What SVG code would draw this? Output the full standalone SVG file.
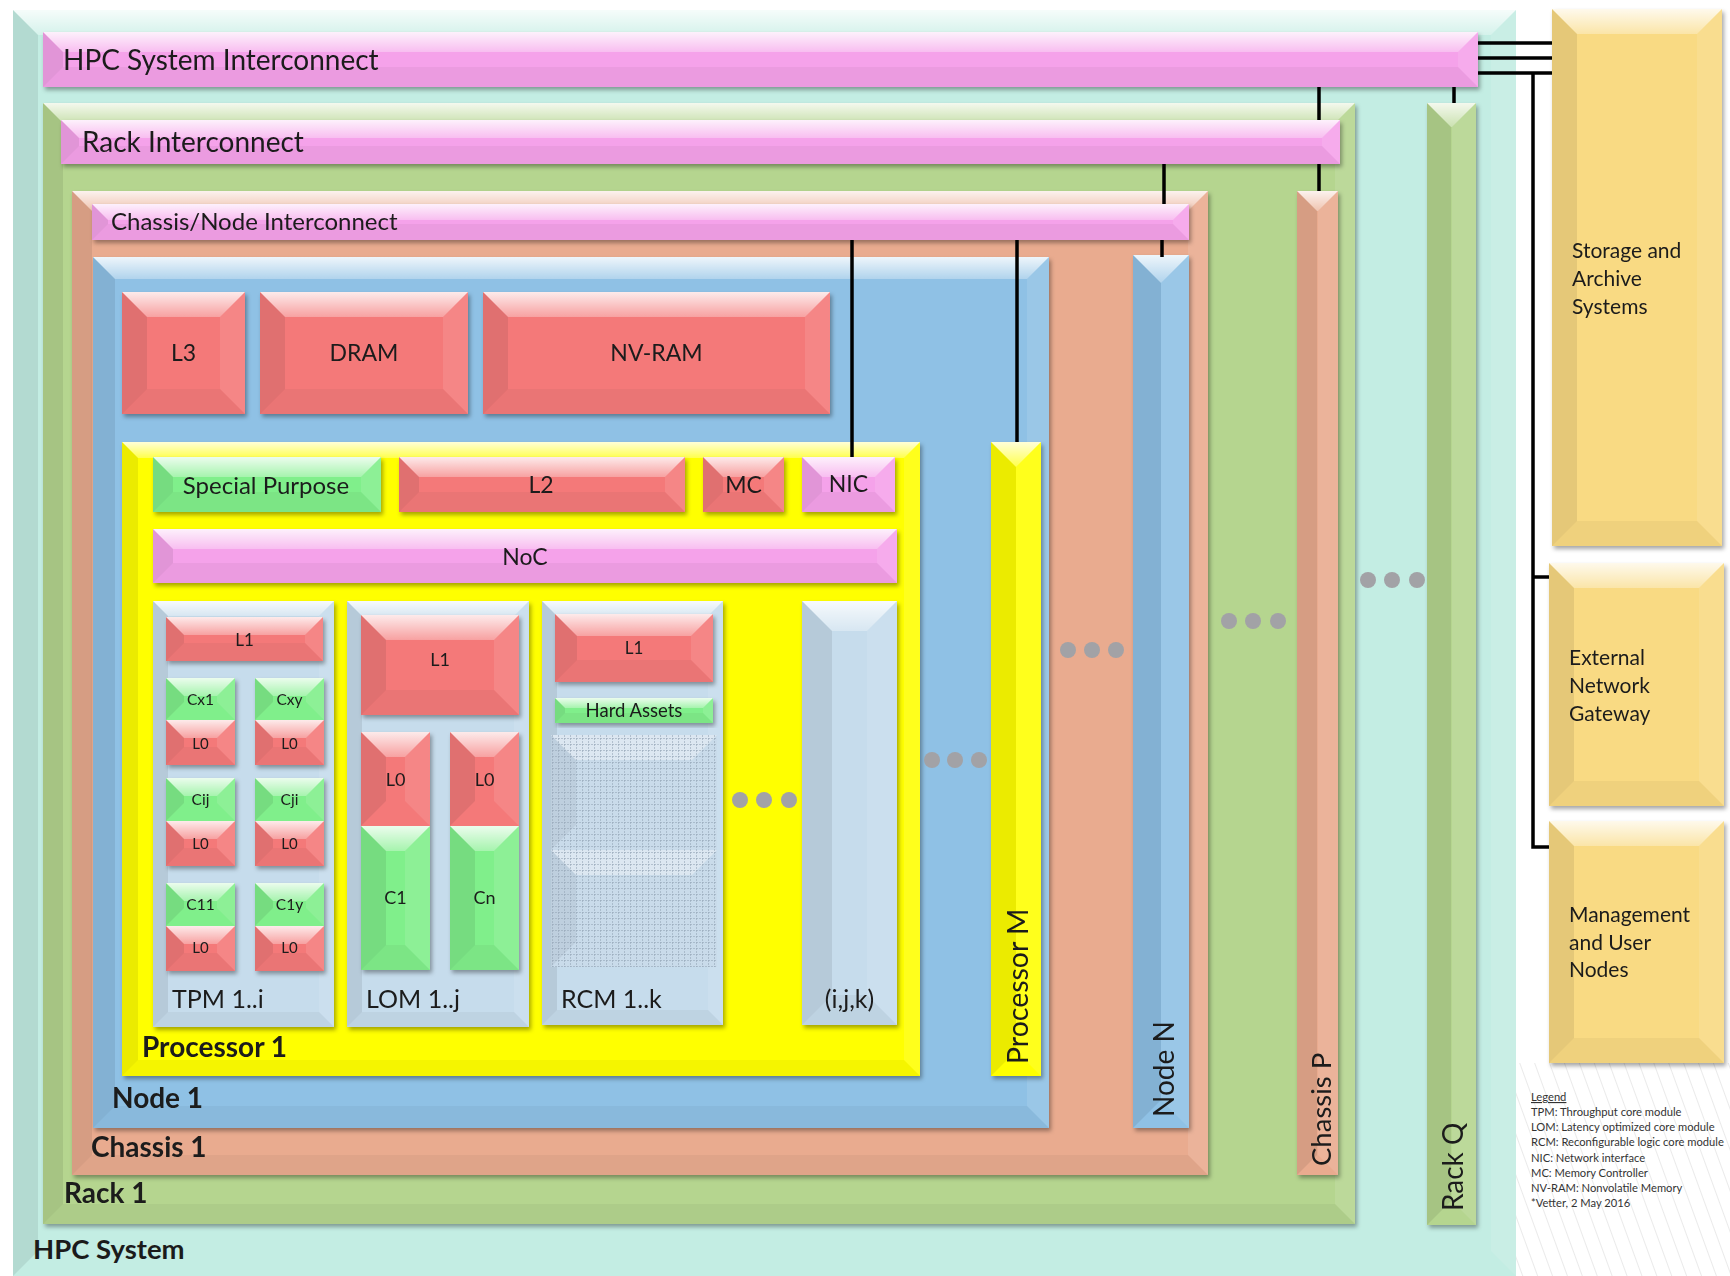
<svg xmlns="http://www.w3.org/2000/svg" width="1730" height="1276" viewBox="0 0 1730 1276">
  <defs>
    <linearGradient id="gloss" x1="0" y1="0" x2="0" y2="1">
      <stop offset="0" stop-color="#fff" stop-opacity="0.85"/>
      <stop offset="1" stop-color="#fff" stop-opacity="0.3"/>
    </linearGradient>
    <filter id="ds" x="-10%" y="-10%" width="130%" height="130%">
      <feDropShadow dx="2" dy="3" stdDeviation="2" flood-color="#000" flood-opacity="0.35"/>
    </filter>
    <pattern id="grid" width="6" height="6" patternUnits="userSpaceOnUse">
      <path d="M0,0.5 H6 M0.5,0 V6" stroke="#96a7b8" stroke-width="1" stroke-dasharray="2 1" fill="none" opacity="0.6"/>
    </pattern>
    <pattern id="hatch" width="14" height="14" patternUnits="userSpaceOnUse" patternTransform="rotate(-20)">
      <path d="M0,0 V14" stroke="#c4c4c4" stroke-width="1" opacity="0.7"/>
    </pattern>
    <style>
      .f-teal{fill:#c3ede3}
      .f-green{fill:#b5d58f}
      .f-salmon{fill:#e9ab8f}
      .f-blue{fill:#8fc1e5}
      .f-yellow{fill:#ffff00}
      .f-pink{fill:#f5a2ea}
      .f-red{fill:#f47979}
      .f-lime{fill:#80ef8b}
      .f-mod{fill:#c6dcec}
      .f-gold{fill:#f9da83}
      .bt{fill:url(#gloss)}
      .bl{fill:#000;fill-opacity:.08}
      .br{fill:#fff;fill-opacity:.1}
      .bb{fill:#000;fill-opacity:.04}
      .sh{filter:url(#ds)}
      .lbl{font-family:Lato,"Liberation Sans",sans-serif;fill:#1b1b1b}
      .b{font-weight:700}
      .c{text-anchor:middle}
      .dot{fill:#a2a2a6}
      .wire{stroke:#000;stroke-width:3.5;fill:none}
      .leg{font-family:Lato,"Liberation Sans",sans-serif;font-size:11.2px;fill:#333}
    </style>
  </defs>

  <rect width="1730" height="1276" fill="#fff"/>
  <rect x="1516" y="1063" width="214" height="213" fill="url(#hatch)"/>

  <!-- system level -->
  <g id="hpc-system">
    <rect class="f-teal" x="13" y="10" width="1503" height="1266"/>
    <path class="bt" d="M13,10 h1503 l-25,25 h-1453 z"/>
    <path class="bl" d="M13,10 l25,25 v1216 l-25,25 z"/>
    <path class="br" d="M1516,10 v1266 l-25,-25 v-1216 z"/>
    <text class="lbl b" x="33" y="1259" font-size="27.5">HPC System</text>
  </g>

  <g id="hpc-interconnect" class="sh">
    <rect class="f-pink" x="43" y="32" width="1435" height="55"/>
    <path class="bt" d="M43,32 h1435 l-20,20 h-1395 z"/>
    <path class="bl" d="M43,32 l20,20 v15 l-20,20 z"/>
    <path class="br" d="M1478,32 v55 l-20,-20 v-15 z"/>
    <path class="bb" d="M43,87 h1435 l-20,-20 h-1395 z"/>
    <text class="lbl" x="63" y="70" font-size="28">HPC System Interconnect</text>
  </g>

  <g id="rack-1" class="sh">
    <rect class="f-green" x="43" y="103" width="1312" height="1121"/>
    <path class="bt" d="M43,103 h1312 l-20,20 h-1272 z"/>
    <path class="bl" d="M43,103 l20,20 v1081 l-20,20 z"/>
    <path class="br" d="M1355,103 v1121 l-20,-20 v-1081 z"/>
    <path class="bb" d="M43,1224 h1312 l-20,-20 h-1272 z"/>
    <text class="lbl b" x="64" y="1203" font-size="28">Rack 1</text>
  </g>

  <g id="rack-interconnect" class="sh">
    <rect class="f-pink" x="61" y="120" width="1279" height="44"/>
    <path class="bt" d="M61,120 h1279 l-18,18 h-1243 z"/>
    <path class="bl" d="M61,120 l18,18 v8 l-18,18 z"/>
    <path class="br" d="M1340,120 v44 l-18,-18 v-8 z"/>
    <path class="bb" d="M61,164 h1279 l-18,-18 h-1243 z"/>
    <text class="lbl" x="82" y="152" font-size="28">Rack Interconnect</text>
  </g>

  <g id="chassis-1" class="sh">
    <rect class="f-salmon" x="72" y="191" width="1136" height="984"/>
    <path class="bt" d="M72,191 h1136 l-20,20 h-1096 z"/>
    <path class="bl" d="M72,191 l20,20 v944 l-20,20 z"/>
    <path class="br" d="M1208,191 v984 l-20,-20 v-944 z"/>
    <path class="bb" d="M72,1175 h1136 l-20,-20 h-1096 z"/>
    <text class="lbl b" x="91" y="1157" font-size="28">Chassis 1</text>
  </g>

  <g id="chassis-node-interconnect" class="sh">
    <rect class="f-pink" x="92" y="204" width="1097" height="36"/>
    <path class="bt" d="M92,204 h1097 l-16,16 h-1065 z"/>
    <path class="bl" d="M92,204 l16,16 v4 l-16,16 z"/>
    <path class="br" d="M1189,204 v36 l-16,-16 v-4 z"/>
    <path class="bb" d="M92,240 h1097 l-16,-16 h-1065 z"/>
    <text class="lbl" x="111" y="230" font-size="24">Chassis/Node Interconnect</text>
  </g>

  <g id="node-1" class="sh">
    <rect class="f-blue" x="93" y="257" width="956" height="871"/>
    <path class="bt" d="M93,257 h956 l-22,22 h-912 z"/>
    <path class="bl" d="M93,257 l22,22 v827 l-22,22 z"/>
    <path class="br" d="M1049,257 v871 l-22,-22 v-827 z"/>
    <path class="bb" d="M93,1128 h956 l-22,-22 h-912 z"/>
    <text class="lbl b" x="112" y="1108" font-size="28">Node 1</text>
  </g>

  <!-- node memories -->
  <g id="l3" class="sh">
    <rect class="f-red" x="122" y="292" width="123" height="122"/>
    <path class="bt" d="M122,292 h123 l-25,25 h-73 z"/>
    <path class="bl" d="M122,292 l25,25 v72 l-25,25 z"/>
    <path class="br" d="M245,292 v122 l-25,-25 v-72 z"/>
    <path class="bb" d="M122,414 h123 l-25,-25 h-73 z"/>
    <text class="lbl c" x="183.5" y="361" font-size="23">L3</text>
  </g>
  <g id="dram" class="sh">
    <rect class="f-red" x="260" y="292" width="208" height="122"/>
    <path class="bt" d="M260,292 h208 l-25,25 h-158 z"/>
    <path class="bl" d="M260,292 l25,25 v72 l-25,25 z"/>
    <path class="br" d="M468,292 v122 l-25,-25 v-72 z"/>
    <path class="bb" d="M260,414 h208 l-25,-25 h-158 z"/>
    <text class="lbl c" x="364" y="361" font-size="23">DRAM</text>
  </g>
  <g id="nv-ram" class="sh">
    <rect class="f-red" x="483" y="292" width="347" height="122"/>
    <path class="bt" d="M483,292 h347 l-25,25 h-297 z"/>
    <path class="bl" d="M483,292 l25,25 v72 l-25,25 z"/>
    <path class="br" d="M830,292 v122 l-25,-25 v-72 z"/>
    <path class="bb" d="M483,414 h347 l-25,-25 h-297 z"/>
    <text class="lbl c" x="656.5" y="361" font-size="23">NV-RAM</text>
  </g>

  <!-- processor 1 -->
  <g id="processor-1" class="sh">
    <rect class="f-yellow" x="122" y="442" width="798" height="634"/>
    <path class="bt" d="M122,442 h798 l-16,16 h-766 z"/>
    <path class="bl" d="M122,442 l16,16 v602 l-16,16 z"/>
    <path class="br" d="M920,442 v634 l-16,-16 v-602 z"/>
    <path class="bb" d="M122,1076 h798 l-16,-16 h-766 z"/>
    <text class="lbl b" x="142" y="1057" font-size="28">Processor 1</text>
  </g>

  <g id="special-purpose" class="sh">
    <rect class="f-lime" x="153" y="457" width="228" height="55"/>
    <path class="bt" d="M153,457 h228 l-20,20 h-188 z"/>
    <path class="bl" d="M153,457 l20,20 v15 l-20,20 z"/>
    <path class="br" d="M381,457 v55 l-20,-20 v-15 z"/>
    <path class="bb" d="M153,512 h228 l-20,-20 h-188 z"/>
    <text class="lbl c" x="266" y="494" font-size="24">Special Purpose</text>
  </g>
  <g id="l2" class="sh">
    <rect class="f-red" x="399" y="457" width="286" height="55"/>
    <path class="bt" d="M399,457 h286 l-20,20 h-246 z"/>
    <path class="bl" d="M399,457 l20,20 v15 l-20,20 z"/>
    <path class="br" d="M685,457 v55 l-20,-20 v-15 z"/>
    <path class="bb" d="M399,512 h286 l-20,-20 h-246 z"/>
    <text class="lbl c" x="541" y="493" font-size="23">L2</text>
  </g>
  <g id="mc" class="sh">
    <rect class="f-red" x="703" y="457" width="81" height="55"/>
    <path class="bt" d="M703,457 h81 l-20,20 h-41 z"/>
    <path class="bl" d="M703,457 l20,20 v15 l-20,20 z"/>
    <path class="br" d="M784,457 v55 l-20,-20 v-15 z"/>
    <path class="bb" d="M703,512 h81 l-20,-20 h-41 z"/>
    <text class="lbl c" x="743.5" y="493" font-size="23">MC</text>
  </g>
  <g id="nic" class="sh">
    <rect class="f-pink" x="802" y="457" width="93" height="55"/>
    <path class="bt" d="M802,457 h93 l-20,20 h-53 z"/>
    <path class="bl" d="M802,457 l20,20 v15 l-20,20 z"/>
    <path class="br" d="M895,457 v55 l-20,-20 v-15 z"/>
    <path class="bb" d="M802,512 h93 l-20,-20 h-53 z"/>
    <text class="lbl c" x="848.5" y="492" font-size="23">NIC</text>
  </g>
  <g id="noc" class="sh">
    <rect class="f-pink" x="153" y="529" width="744" height="54"/>
    <path class="bt" d="M153,529 h744 l-20,20 h-704 z"/>
    <path class="bl" d="M153,529 l20,20 v14 l-20,20 z"/>
    <path class="br" d="M897,529 v54 l-20,-20 v-14 z"/>
    <path class="bb" d="M153,583 h744 l-20,-20 h-704 z"/>
    <text class="lbl c" x="525" y="565" font-size="23">NoC</text>
  </g>

  <!-- throughput core module -->
  <g id="tpm" class="sh">
    <rect class="f-mod" x="153" y="601" width="181" height="426"/>
    <path class="bt" d="M153,601 h181 l-15,15 h-151 z"/>
    <path class="bl" d="M153,601 l15,15 v396 l-15,15 z"/>
    <path class="br" d="M334,601 v426 l-15,-15 v-396 z"/>
    <path class="bb" d="M153,1027 h181 l-15,-15 h-151 z"/>
    <text class="lbl" x="172" y="1008" font-size="25">TPM 1..i</text>
  </g>
  <g id="tpm-l1" class="sh">
    <rect class="f-red" x="166" y="617" width="157" height="44"/>
    <path class="bt" d="M166,617 h157 l-18,18 h-121 z"/>
    <path class="bl" d="M166,617 l18,18 v8 l-18,18 z"/>
    <path class="br" d="M323,617 v44 l-18,-18 v-8 z"/>
    <path class="bb" d="M166,661 h157 l-18,-18 h-121 z"/>
    <text class="lbl c" x="244.5" y="646" font-size="17">L1</text>
  </g>

  <g id="core-cx1" class="sh">
    <rect class="f-lime" x="166" y="678" width="69" height="42"/>
    <path class="bt" d="M166,678 h69 l-18,18 h-33 z"/>
    <path class="bl" d="M166,678 l18,18 v6 l-18,18 z"/>
    <path class="br" d="M235,678 v42 l-18,-18 v-6 z"/>
    <text class="lbl c" x="200.5" y="705" font-size="15.5">Cx1</text>
    <rect class="f-red" x="166" y="720" width="69" height="45"/>
    <path class="bt" d="M166,720 h69 l-18,18 h-33 z"/>
    <path class="bl" d="M166,720 l18,18 v9 l-18,18 z"/>
    <path class="br" d="M235,720 v45 l-18,-18 v-9 z"/>
    <path class="bb" d="M166,765 h69 l-18,-18 h-33 z"/>
    <text class="lbl c" x="200.5" y="749" font-size="15">L0</text>
  </g>
  <g id="core-cxy" class="sh">
    <rect class="f-lime" x="255" y="678" width="69" height="42"/>
    <path class="bt" d="M255,678 h69 l-18,18 h-33 z"/>
    <path class="bl" d="M255,678 l18,18 v6 l-18,18 z"/>
    <path class="br" d="M324,678 v42 l-18,-18 v-6 z"/>
    <text class="lbl c" x="289.5" y="705" font-size="15.5">Cxy</text>
    <rect class="f-red" x="255" y="720" width="69" height="45"/>
    <path class="bt" d="M255,720 h69 l-18,18 h-33 z"/>
    <path class="bl" d="M255,720 l18,18 v9 l-18,18 z"/>
    <path class="br" d="M324,720 v45 l-18,-18 v-9 z"/>
    <path class="bb" d="M255,765 h69 l-18,-18 h-33 z"/>
    <text class="lbl c" x="289.5" y="749" font-size="15">L0</text>
  </g>
  <g id="core-cij" class="sh">
    <rect class="f-lime" x="166" y="778" width="69" height="43"/>
    <path class="bt" d="M166,778 h69 l-18,18 h-33 z"/>
    <path class="bl" d="M166,778 l18,18 v7 l-18,18 z"/>
    <path class="br" d="M235,778 v43 l-18,-18 v-7 z"/>
    <text class="lbl c" x="200.5" y="805" font-size="15.5">Cij</text>
    <rect class="f-red" x="166" y="821" width="69" height="45"/>
    <path class="bt" d="M166,821 h69 l-18,18 h-33 z"/>
    <path class="bl" d="M166,821 l18,18 v9 l-18,18 z"/>
    <path class="br" d="M235,821 v45 l-18,-18 v-9 z"/>
    <path class="bb" d="M166,866 h69 l-18,-18 h-33 z"/>
    <text class="lbl c" x="200.5" y="849" font-size="15">L0</text>
  </g>
  <g id="core-cji" class="sh">
    <rect class="f-lime" x="255" y="778" width="69" height="43"/>
    <path class="bt" d="M255,778 h69 l-18,18 h-33 z"/>
    <path class="bl" d="M255,778 l18,18 v7 l-18,18 z"/>
    <path class="br" d="M324,778 v43 l-18,-18 v-7 z"/>
    <text class="lbl c" x="289.5" y="805" font-size="15.5">Cji</text>
    <rect class="f-red" x="255" y="821" width="69" height="45"/>
    <path class="bt" d="M255,821 h69 l-18,18 h-33 z"/>
    <path class="bl" d="M255,821 l18,18 v9 l-18,18 z"/>
    <path class="br" d="M324,821 v45 l-18,-18 v-9 z"/>
    <path class="bb" d="M255,866 h69 l-18,-18 h-33 z"/>
    <text class="lbl c" x="289.5" y="849" font-size="15">L0</text>
  </g>
  <g id="core-c11" class="sh">
    <rect class="f-lime" x="166" y="883" width="69" height="43"/>
    <path class="bt" d="M166,883 h69 l-18,18 h-33 z"/>
    <path class="bl" d="M166,883 l18,18 v7 l-18,18 z"/>
    <path class="br" d="M235,883 v43 l-18,-18 v-7 z"/>
    <text class="lbl c" x="200.5" y="910" font-size="15.5">C11</text>
    <rect class="f-red" x="166" y="926" width="69" height="45"/>
    <path class="bt" d="M166,926 h69 l-18,18 h-33 z"/>
    <path class="bl" d="M166,926 l18,18 v9 l-18,18 z"/>
    <path class="br" d="M235,926 v45 l-18,-18 v-9 z"/>
    <path class="bb" d="M166,971 h69 l-18,-18 h-33 z"/>
    <text class="lbl c" x="200.5" y="953" font-size="15">L0</text>
  </g>
  <g id="core-c1y" class="sh">
    <rect class="f-lime" x="255" y="883" width="69" height="43"/>
    <path class="bt" d="M255,883 h69 l-18,18 h-33 z"/>
    <path class="bl" d="M255,883 l18,18 v7 l-18,18 z"/>
    <path class="br" d="M324,883 v43 l-18,-18 v-7 z"/>
    <text class="lbl c" x="289.5" y="910" font-size="15.5">C1y</text>
    <rect class="f-red" x="255" y="926" width="69" height="45"/>
    <path class="bt" d="M255,926 h69 l-18,18 h-33 z"/>
    <path class="bl" d="M255,926 l18,18 v9 l-18,18 z"/>
    <path class="br" d="M324,926 v45 l-18,-18 v-9 z"/>
    <path class="bb" d="M255,971 h69 l-18,-18 h-33 z"/>
    <text class="lbl c" x="289.5" y="953" font-size="15">L0</text>
  </g>

  <!-- latency optimized core module -->
  <g id="lom" class="sh">
    <rect class="f-mod" x="347" y="601" width="182" height="426"/>
    <path class="bt" d="M347,601 h182 l-15,15 h-152 z"/>
    <path class="bl" d="M347,601 l15,15 v396 l-15,15 z"/>
    <path class="br" d="M529,601 v426 l-15,-15 v-396 z"/>
    <path class="bb" d="M347,1027 h182 l-15,-15 h-152 z"/>
    <text class="lbl" x="366" y="1008" font-size="25">LOM 1..j</text>
  </g>
  <g id="lom-l1" class="sh">
    <rect class="f-red" x="361" y="615" width="158" height="100"/>
    <path class="bt" d="M361,615 h158 l-25,25 h-108 z"/>
    <path class="bl" d="M361,615 l25,25 v50 l-25,25 z"/>
    <path class="br" d="M519,615 v100 l-25,-25 v-50 z"/>
    <path class="bb" d="M361,715 h158 l-25,-25 h-108 z"/>
    <text class="lbl c" x="440" y="666" font-size="18">L1</text>
  </g>
  <g id="core-c1" class="sh">
    <rect class="f-red" x="361" y="732" width="69" height="94"/>
    <path class="bt" d="M361,732 h69 l-25,25 h-19 z"/>
    <path class="bl" d="M361,732 l25,25 v44 l-25,25 z"/>
    <path class="br" d="M430,732 v94 l-25,-25 v-44 z"/>
    <text class="lbl c" x="395.5" y="786" font-size="18">L0</text>
    <rect class="f-lime" x="361" y="826" width="69" height="144"/>
    <path class="bt" d="M361,826 h69 l-25,25 h-19 z"/>
    <path class="bl" d="M361,826 l25,25 v94 l-25,25 z"/>
    <path class="br" d="M430,826 v144 l-25,-25 v-94 z"/>
    <path class="bb" d="M361,970 h69 l-25,-25 h-19 z"/>
    <text class="lbl c" x="395.5" y="904" font-size="18">C1</text>
  </g>
  <g id="core-cn" class="sh">
    <rect class="f-red" x="450" y="732" width="69" height="94"/>
    <path class="bt" d="M450,732 h69 l-25,25 h-19 z"/>
    <path class="bl" d="M450,732 l25,25 v44 l-25,25 z"/>
    <path class="br" d="M519,732 v94 l-25,-25 v-44 z"/>
    <text class="lbl c" x="484.5" y="786" font-size="18">L0</text>
    <rect class="f-lime" x="450" y="826" width="69" height="144"/>
    <path class="bt" d="M450,826 h69 l-25,25 h-19 z"/>
    <path class="bl" d="M450,826 l25,25 v94 l-25,25 z"/>
    <path class="br" d="M519,826 v144 l-25,-25 v-94 z"/>
    <path class="bb" d="M450,970 h69 l-25,-25 h-19 z"/>
    <text class="lbl c" x="484.5" y="904" font-size="18">Cn</text>
  </g>

  <!-- reconfigurable logic core module -->
  <g id="rcm" class="sh">
    <rect class="f-mod" x="542" y="601" width="181" height="424"/>
    <path class="bt" d="M542,601 h181 l-15,15 h-151 z"/>
    <path class="bl" d="M542,601 l15,15 v394 l-15,15 z"/>
    <path class="br" d="M723,601 v424 l-15,-15 v-394 z"/>
    <path class="bb" d="M542,1025 h181 l-15,-15 h-151 z"/>
    <text class="lbl" x="561" y="1008" font-size="25">RCM 1..k</text>
  </g>
  <g id="rcm-l1" class="sh">
    <rect class="f-red" x="555" y="614" width="158" height="68"/>
    <path class="bt" d="M555,614 h158 l-22,22 h-114 z"/>
    <path class="bl" d="M555,614 l22,22 v24 l-22,22 z"/>
    <path class="br" d="M713,614 v68 l-22,-22 v-24 z"/>
    <path class="bb" d="M555,682 h158 l-22,-22 h-114 z"/>
    <text class="lbl c" x="634" y="654" font-size="17">L1</text>
  </g>
  <g id="hard-assets" class="sh">
    <rect class="f-lime" x="555" y="698" width="158" height="25"/>
    <path class="bt" d="M555,698 h158 l-10,10 h-138 z"/>
    <path class="bl" d="M555,698 l10,10 v5 l-10,10 z"/>
    <path class="br" d="M713,698 v25 l-10,-10 v-5 z"/>
    <path class="bb" d="M555,723 h158 l-10,-10 h-138 z"/>
    <text class="lbl c" x="634" y="717" font-size="18.5">Hard Assets</text>
  </g>
  <g id="logic-fabric">
    <rect x="551" y="735" width="166" height="232" fill="#c9dbea"/>
    <path d="M551,735 h166 l-25,25 h-116 z M551,850 h166 l-25,25 h-116 z" fill="#fff" fill-opacity="0.35"/>
    <path d="M551,735 l25,25 v65 l-25,25 z M551,850 l25,25 v67 l-25,25 z" fill="#000" fill-opacity="0.05"/>
    <rect x="551" y="735" width="166" height="232" fill="url(#grid)"/>
  </g>

  <g id="module-ijk" class="sh">
    <rect class="f-mod" x="802" y="601" width="95" height="424"/>
    <path class="bt" d="M802,601 h95 l-30,30 h-35 z"/>
    <path class="bl" d="M802,601 l30,30 v364 l-30,30 z"/>
    <path class="br" d="M897,601 v424 l-30,-30 v-364 z"/>
    <path class="bb" d="M802,1025 h95 l-30,-30 h-35 z"/>
    <text class="lbl c" x="849.5" y="1008" font-size="25">(i,j,k)</text>
  </g>

  <!-- sibling units -->
  <g id="processor-m" class="sh">
    <rect class="f-yellow" x="991" y="442" width="50" height="634"/>
    <path class="bt" d="M991,442 h50 l-25,25 z"/>
    <path class="bl" d="M991,442 l25,25 v584 l-25,25 z"/>
    <path class="br" d="M1041,442 v634 l-25,-25 v-584 z"/>
    <text class="lbl" transform="translate(1028,1064) rotate(-90)" font-size="28.5">Processor M</text>
  </g>
  <g id="node-n" class="sh">
    <rect class="f-blue" x="1133" y="255" width="56" height="873"/>
    <path class="bt" d="M1133,255 h56 l-28,28 z"/>
    <path class="bl" d="M1133,255 l28,28 v817 l-28,28 z"/>
    <path class="br" d="M1189,255 v873 l-28,-28 v-817 z"/>
    <text class="lbl" transform="translate(1174,1117) rotate(-90)" font-size="28">Node N</text>
  </g>
  <g id="chassis-p" class="sh">
    <rect class="f-salmon" x="1297" y="191" width="41" height="984"/>
    <path class="bt" d="M1297,191 h41 l-20,20 h-1 z"/>
    <path class="bl" d="M1297,191 l20,20 v944 l-20,20 z"/>
    <path class="br" d="M1338,191 v984 l-20,-20 v-944 z"/>
    <text class="lbl" transform="translate(1331,1166) rotate(-90)" font-size="27.5">Chassis P</text>
  </g>
  <g id="rack-q" class="sh">
    <rect class="f-green" x="1427" y="103" width="49" height="1122"/>
    <path class="bt" d="M1427,103 h49 l-24,24 h-1 z"/>
    <path class="bl" d="M1427,103 l24,24 v1074 l-24,24 z"/>
    <path class="br" d="M1476,103 v1122 l-24,-24 v-1074 z"/>
    <text class="lbl" transform="translate(1463,1211) rotate(-90)" font-size="28">Rack Q</text>
  </g>

  <!-- external systems -->
  <g id="storage-archive" class="sh">
    <rect class="f-gold" x="1552" y="9" width="170" height="537"/>
    <path class="bt" d="M1552,9 h170 l-25,25 h-120 z"/>
    <path class="bl" d="M1552,9 l25,25 v487 l-25,25 z"/>
    <path class="br" d="M1722,9 v537 l-25,-25 v-487 z"/>
    <path class="bb" d="M1552,546 h170 l-25,-25 h-120 z"/>
    <text class="lbl" font-size="21"><tspan x="1572" y="258">Storage and</tspan><tspan x="1572" y="286">Archive</tspan><tspan x="1572" y="314">Systems</tspan></text>
  </g>
  <g id="external-gateway" class="sh">
    <rect class="f-gold" x="1549" y="563" width="175" height="243"/>
    <path class="bt" d="M1549,563 h175 l-25,25 h-125 z"/>
    <path class="bl" d="M1549,563 l25,25 v193 l-25,25 z"/>
    <path class="br" d="M1724,563 v243 l-25,-25 v-193 z"/>
    <path class="bb" d="M1549,806 h175 l-25,-25 h-125 z"/>
    <text class="lbl" font-size="21"><tspan x="1569" y="665">External</tspan><tspan x="1569" y="693">Network</tspan><tspan x="1569" y="721">Gateway</tspan></text>
  </g>
  <g id="management-user" class="sh">
    <rect class="f-gold" x="1549" y="821" width="175" height="242"/>
    <path class="bt" d="M1549,821 h175 l-25,25 h-125 z"/>
    <path class="bl" d="M1549,821 l25,25 v192 l-25,25 z"/>
    <path class="br" d="M1724,821 v242 l-25,-25 v-192 z"/>
    <path class="bb" d="M1549,1063 h175 l-25,-25 h-125 z"/>
    <text class="lbl" font-size="21"><tspan x="1569" y="922">Management</tspan><tspan x="1569" y="950">and User</tspan><tspan x="1569" y="977">Nodes</tspan></text>
  </g>

  <!-- ellipses for repeated units -->
  <g id="ellipses">
    <circle class="dot" cx="740" cy="800" r="8"/><circle class="dot" cx="764" cy="800" r="8"/><circle class="dot" cx="789" cy="800" r="8"/>
    <circle class="dot" cx="932" cy="760" r="8"/><circle class="dot" cx="955" cy="760" r="8"/><circle class="dot" cx="979" cy="760" r="8"/>
    <circle class="dot" cx="1068" cy="650" r="8"/><circle class="dot" cx="1092" cy="650" r="8"/><circle class="dot" cx="1116" cy="650" r="8"/>
    <circle class="dot" cx="1229" cy="621" r="8"/><circle class="dot" cx="1253" cy="621" r="8"/><circle class="dot" cx="1278" cy="621" r="8"/>
    <circle class="dot" cx="1368" cy="580" r="8"/><circle class="dot" cx="1392" cy="580" r="8"/><circle class="dot" cx="1417" cy="580" r="8"/>
  </g>

  <!-- interconnect links -->
  <g id="connectors" class="wire">
    <path d="M1478,43 H1552 M1478,58 H1552 M1478,73 H1552"/>
    <path d="M1533,73 V847 H1549 M1533,577 H1549"/>
    <path d="M1319,87 V120 M1319,164 V191"/>
    <path d="M1454,87 V103"/>
    <path d="M1164,164 V204"/>
    <path d="M1162,240 V257"/>
    <path d="M1017,240 V442"/>
    <path d="M852,240 V457"/>
  </g>

  <!-- legend -->
  <g id="legend">
    <text class="leg" x="1531" y="1101" text-decoration="underline">Legend</text>
    <text class="leg" x="1531" y="1116">TPM: Throughput core module</text>
    <text class="leg" x="1531" y="1131">LOM: Latency optimized core module</text>
    <text class="leg" x="1531" y="1146">RCM: Reconfigurable logic core module</text>
    <text class="leg" x="1531" y="1162">NIC: Network interface</text>
    <text class="leg" x="1531" y="1177">MC: Memory Controller</text>
    <text class="leg" x="1531" y="1192">NV-RAM: Nonvolatile Memory</text>
    <text class="leg" x="1531" y="1207">*Vetter, 2 May 2016</text>
  </g>
</svg>
